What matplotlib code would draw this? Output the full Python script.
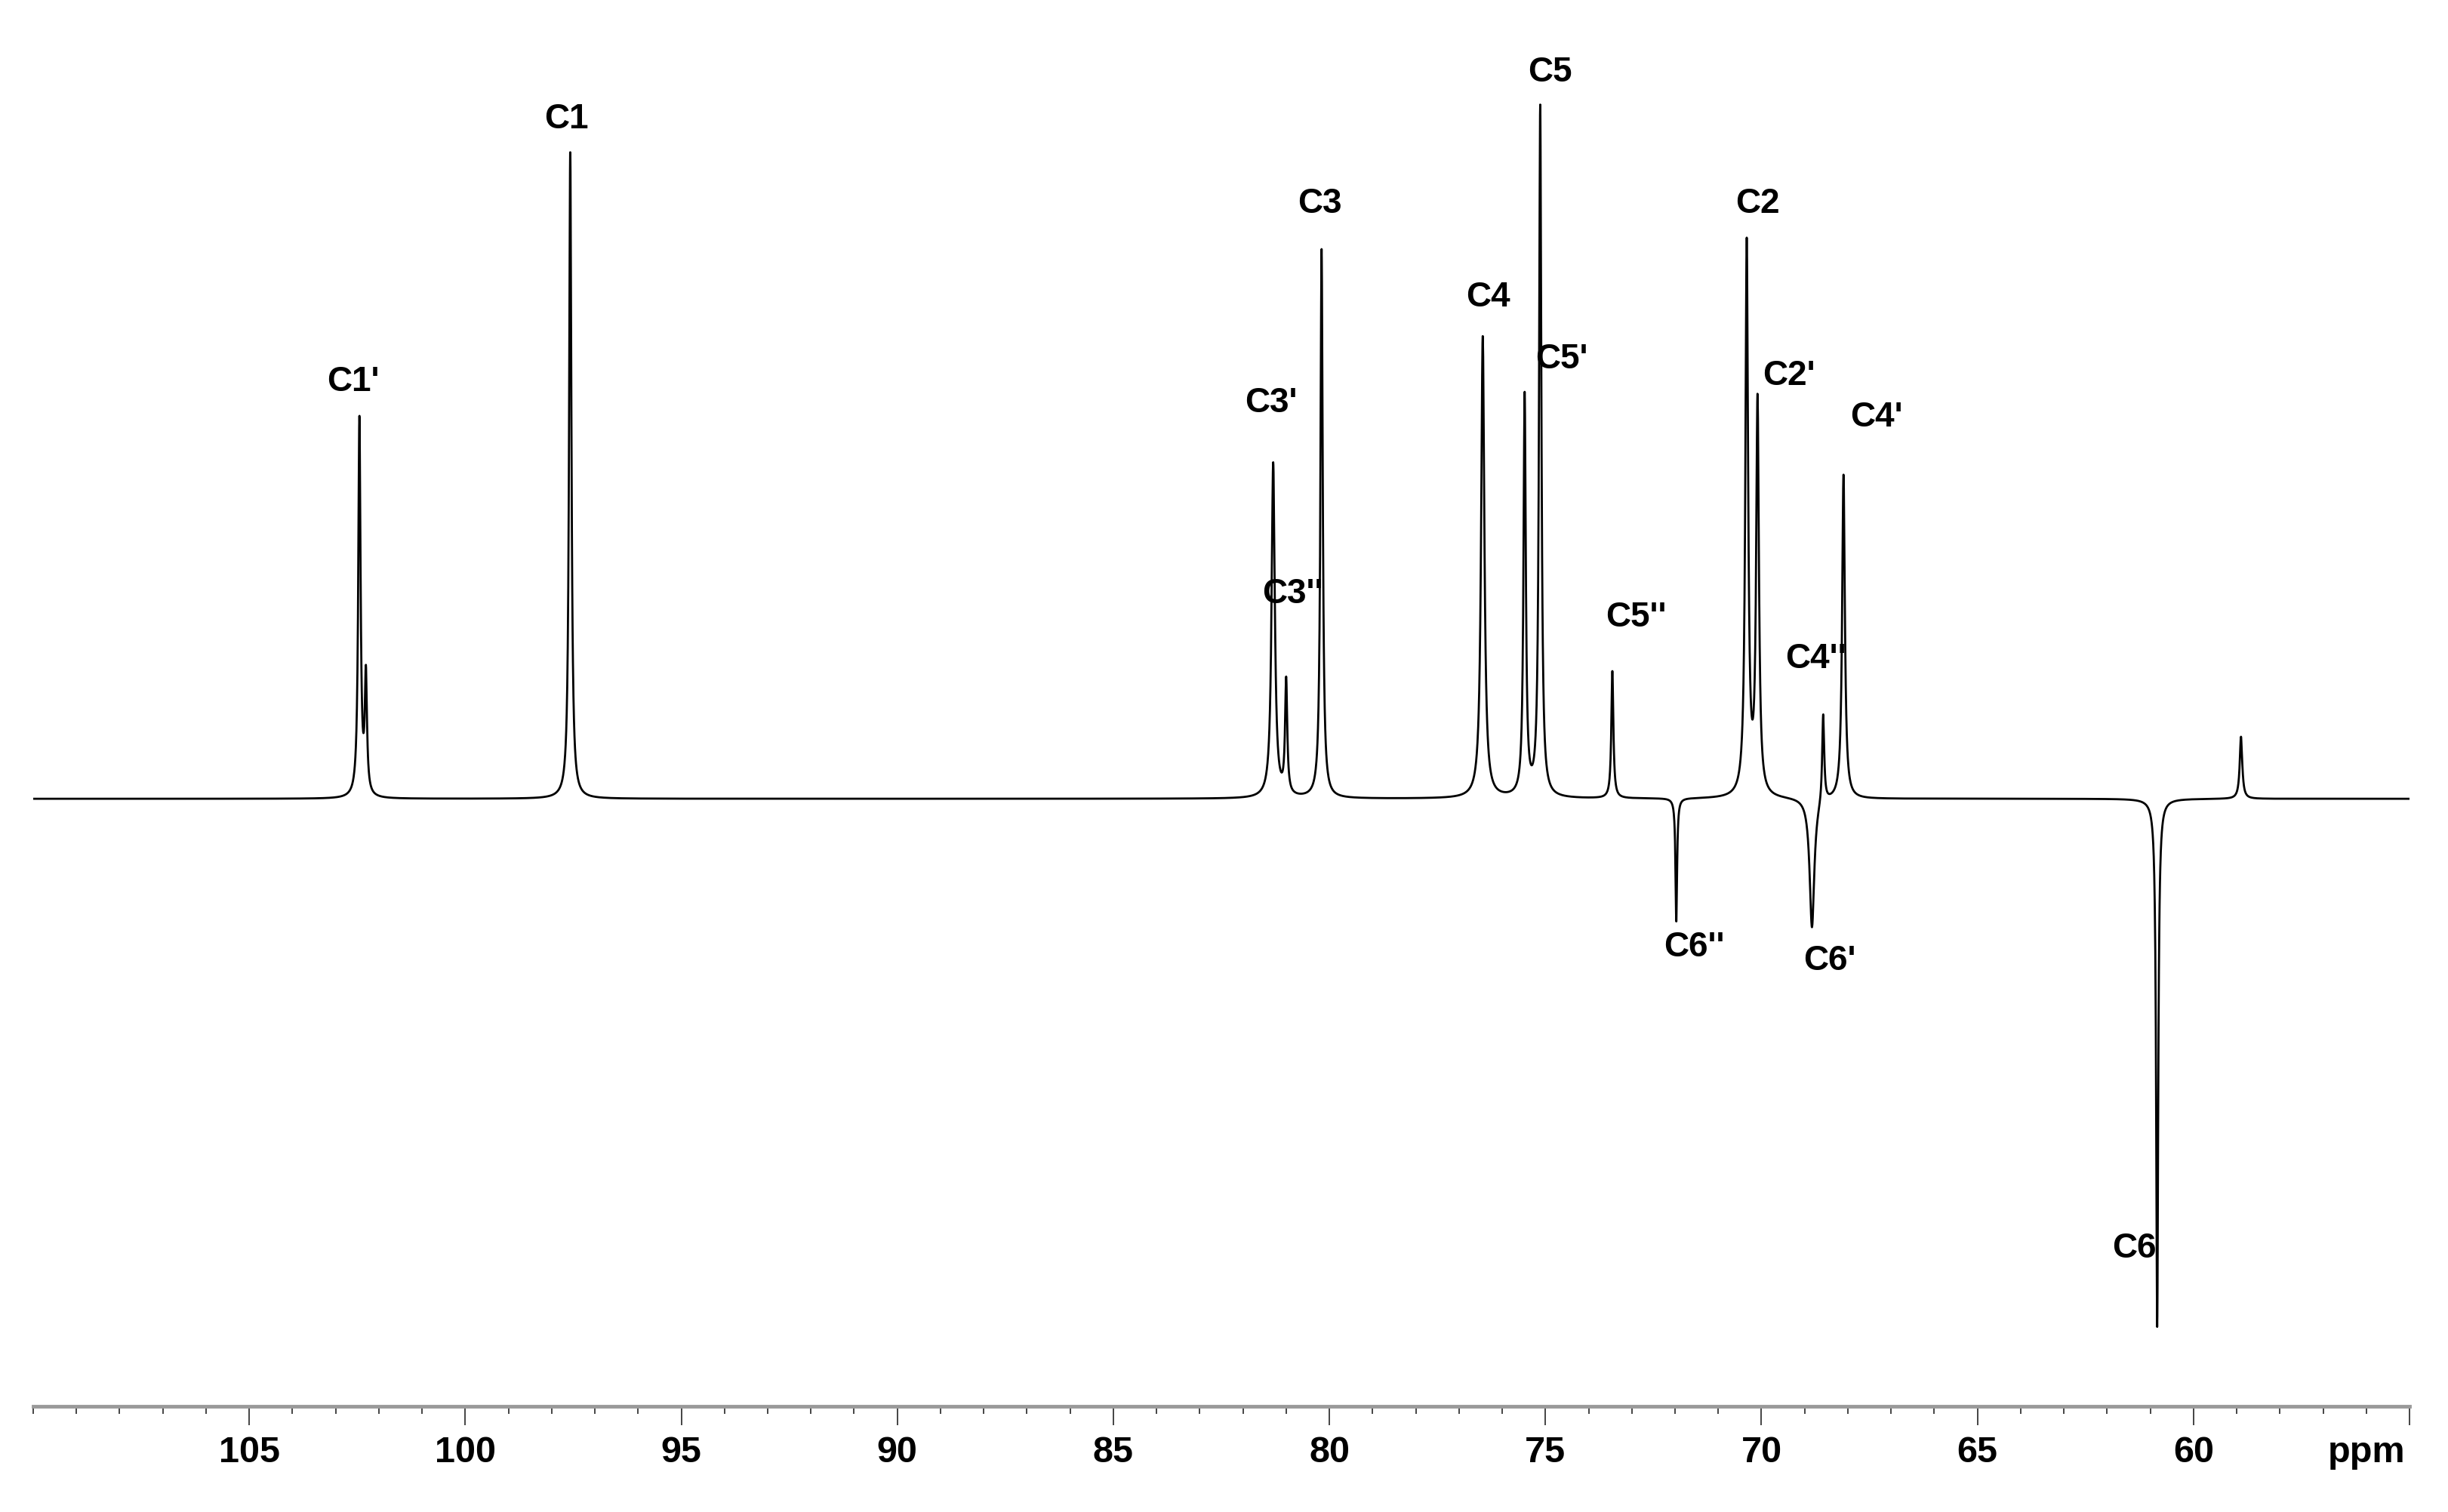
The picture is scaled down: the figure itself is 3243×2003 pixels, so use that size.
import numpy as np
import matplotlib
matplotlib.use('Agg')
import matplotlib.pyplot as plt
from matplotlib.ticker import MultipleLocator, FixedLocator
from matplotlib.transforms import ScaledTranslation

plt.rcParams['font.family'] = 'Liberation Sans'
plt.rcParams['font.weight'] = 'bold'

# peak list (ppm, relative intensity, half width)
peak_names = ["C1'", None, "C1", "C3'", "C3''", "C3", "C4", "C5'", "C5", "C5''",
              "C6''", "C2", "C2'", "C6'", "C4''", "C4'", None, "C6"]
peak_ppm = [102.45, 102.30, 97.57, 81.30, 81.00, 80.18, 76.45, 75.48, 75.12, 73.45,
            71.97, 70.34, 70.09, 68.83, 68.57, 68.10, 58.90, 60.84]
peak_height = [55.0, 17.0, 94.0, 48.5, 16.5, 79.5, 67.0, 58.0, 100.0, 18.5,
               -18.0, 80.0, 57.0, -19.0, 13.0, 47.0, 9.0, -76.5]
peak_width = [0.032, 0.030, 0.032, 0.045, 0.030, 0.032, 0.045, 0.032, 0.032, 0.028,
              0.022, 0.038, 0.038, 0.065, 0.028, 0.038, 0.035, 0.028]

# label placement (ppm, intensity) for each assignment
label_text = ["C1'", "C1", "C3'", "C3''", "C3", "C4", "C5'", "C5", "C5''",
              "C6''", "C2", "C2'", "C4''", "C4'", "C6'", "C6"]
label_x = [102.60, 97.66, 81.35, 80.85, 80.23, 76.33, 74.63, 74.89, 72.90,
           71.56, 70.08, 69.36, 68.74, 67.33, 68.42, 61.37]
label_y = [60.4, 98.4, 57.3, 29.7, 86.2, 72.6, 63.6, 105.2, 26.3,
           -21.5, 86.2, 61.3, 20.2, 55.2, -23.5, -65.1]

ppm = np.arange(55.0, 110.0, 0.004)
spec = np.zeros_like(ppm)
for p, h, w in zip(peak_ppm, peak_height, peak_width):
    spec += h * w**2 / ((ppm - p)**2 + w**2)

W, H = 3243, 2003
fig = plt.figure(figsize=(W / 100, H / 100), dpi=100)
x0, x1, yax = 44, 3192, 1863
ax = fig.add_axes([x0 / W, 1 - yax / H, (x1 - x0) / W, yax / H])

ax.plot(ppm, spec, color='black', lw=2.0)

ax.set_xlim(110, 55)
ax.set_ylim(-88.0, 115.7)

for s in ['top', 'left', 'right']:
    ax.spines[s].set_visible(False)
ax.spines['bottom'].set_color('#9a9a9a')
ax.spines['bottom'].set_linewidth(3.5)
ax.set_yticks([])

ticks = list(range(105, 54, -5))
ax.xaxis.set_major_locator(FixedLocator(ticks))
ax.set_xticklabels([str(t) if t != 55 else '' for t in ticks])
ax.xaxis.set_minor_locator(MultipleLocator(1))
ax.tick_params(axis='x', which='major', length=18, width=1.4, color='#444444',
               pad=10, labelsize=35)
ax.tick_params(axis='x', which='minor', length=7, width=1.4, color='#444444')
for lab in ax.get_xticklabels():
    lab.set_fontweight('bold')

ax.text(56.0, -88.0, 'ppm', ha='center', va='top', fontsize=35, fontweight='bold',
        transform=ax.transData + ScaledTranslation(0, -28 / 72, fig.dpi_scale_trans))

for t, lx, ly in zip(label_text, label_x, label_y):
    ax.text(lx, ly, t, ha='center', va='center', fontsize=33, fontweight='bold')

fig.savefig('out.png', dpi=100, facecolor='white')
